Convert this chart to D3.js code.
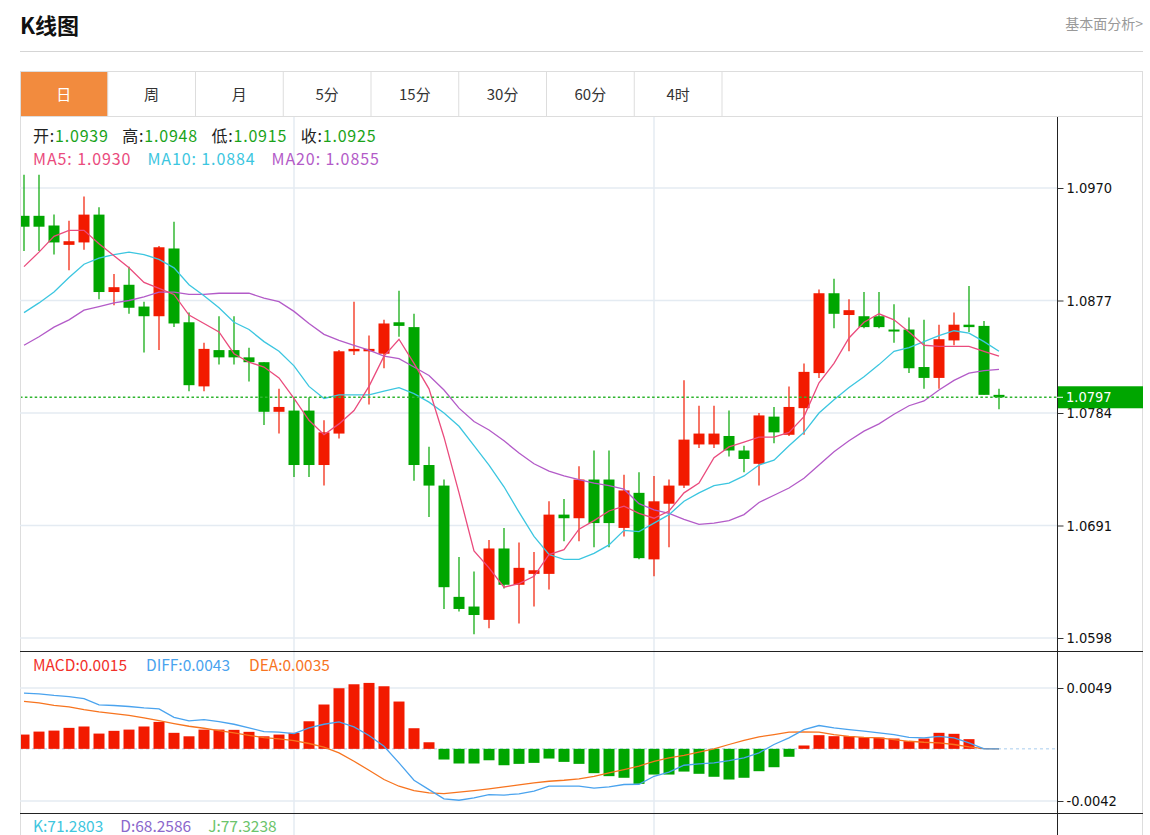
<!DOCTYPE html>
<html>
<head>
<meta charset="utf-8">
<script src="https://cdn.jsdelivr.net/npm/d3@7"></script>
<style>
  body { margin: 0; background: #fff; }
  text { font-family: "Noto Sans CJK SC", "Noto Sans", sans-serif; }
  .num { font-family: "DejaVu Sans Condensed", "DejaVu Sans", sans-serif; font-stretch: condensed; }
</style>
</head>
<body>
<div id="chart"></div>
<script>
// K line data (daily candles, oldest first)
const opens = [1.0947, 1.0947, 1.0939, 1.0923, 1.0925, 1.0948, 1.0884, 1.0890, 1.0872, 1.0864,
  1.0920, 1.0859, 1.0806, 1.0836, 1.0836, 1.0830, 1.0826, 1.0785, 1.0786, 1.0786,
  1.0741, 1.0767, 1.0835, 1.0835, 1.0833, 1.0859, 1.0855, 1.0741, 1.0724, 1.0632,
  1.0624, 1.0613, 1.0672, 1.0642, 1.0651, 1.0651, 1.0700, 1.0697, 1.0729, 1.0729,
  1.0689, 1.0718, 1.0663, 1.0709, 1.0724, 1.0758, 1.0758, 1.0765, 1.0753, 1.0742,
  1.0781, 1.0766, 1.0788, 1.0817, 1.0883, 1.0865, 1.0864, 1.0864, 1.0853, 1.0853,
  1.0822, 1.0813, 1.0844, 1.0857, 1.0856, 1.0799];
const highs = [1.0981, 1.0981, 1.0948, 1.0943, 1.0963, 1.0954, 1.0899, 1.0905, 1.0876, 1.0922,
  1.0942, 1.0867, 1.0842, 1.0864, 1.0864, 1.0838, 1.0826, 1.0804, 1.0797, 1.0797,
  1.0778, 1.0836, 1.0876, 1.0848, 1.0861, 1.0885, 1.0866, 1.0756, 1.0729, 1.0665,
  1.0653, 1.0679, 1.0689, 1.0677, 1.0669, 1.0711, 1.0713, 1.0740, 1.0753, 1.0753,
  1.0733, 1.0735, 1.0732, 1.0729, 1.0811, 1.0790, 1.0790, 1.0786, 1.0757, 1.0784,
  1.0789, 1.0806, 1.0825, 1.0886, 1.0895, 1.0878, 1.0884, 1.0884, 1.0874, 1.0863,
  1.0861, 1.0857, 1.0867, 1.0889, 1.0860, 1.0804];
const lows = [1.0918, 1.0918, 1.0915, 1.0902, 1.0919, 1.0878, 1.0873, 1.0866, 1.0834, 1.0836,
  1.0855, 1.0802, 1.0802, 1.0824, 1.0824, 1.0810, 1.0774, 1.0767, 1.0731, 1.0731,
  1.0724, 1.0763, 1.0832, 1.0791, 1.0821, 1.0847, 1.0728, 1.0698, 1.0622, 1.0620,
  1.0601, 1.0606, 1.0639, 1.0610, 1.0624, 1.0638, 1.0678, 1.0678, 1.0673, 1.0673,
  1.0682, 1.0663, 1.0649, 1.0673, 1.0722, 1.0755, 1.0755, 1.0748, 1.0735, 1.0724,
  1.0759, 1.0765, 1.0766, 1.0813, 1.0854, 1.0835, 1.0854, 1.0854, 1.0842, 1.0817,
  1.0804, 1.0804, 1.0840, 1.0851, 1.0799, 1.0787];
const closes = [1.0938, 1.0938, 1.0925, 1.0926, 1.0948, 1.0884, 1.0888, 1.0871, 1.0864, 1.0921,
  1.0858, 1.0807, 1.0837, 1.0830, 1.0830, 1.0826, 1.0785, 1.0789, 1.0741, 1.0741,
  1.0768, 1.0835, 1.0837, 1.0837, 1.0858, 1.0856, 1.0741, 1.0724, 1.0640, 1.0622,
  1.0617, 1.0672, 1.0642, 1.0656, 1.0654, 1.0700, 1.0697, 1.0729, 1.0693, 1.0693,
  1.0720, 1.0664, 1.0711, 1.0724, 1.0762, 1.0767, 1.0767, 1.0753, 1.0746, 1.0782,
  1.0768, 1.0789, 1.0818, 1.0883, 1.0866, 1.0869, 1.0855, 1.0855, 1.0852, 1.0821,
  1.0813, 1.0845, 1.0857, 1.0855, 1.0799, 1.0797];

// moving averages as drawn
const ma5 = [1.0905, 1.0917, 1.0930, 1.0935, 1.0935, 1.0924, 1.0914, 1.0904, 1.0892, 1.0887,
  1.0882, 1.0865, 1.0858, 1.0851, 1.0833, 1.0826, 1.0822, 1.0813, 1.0796, 1.0778,
  1.0766, 1.0775, 1.0786, 1.0806, 1.0831, 1.0845, 1.0825, 1.0804, 1.0764, 1.0718,
  1.0670, 1.0656, 1.0640, 1.0643, 1.0649, 1.0667, 1.0671, 1.0688, 1.0695, 1.0703,
  1.0707, 1.0701, 1.0697, 1.0703, 1.0718, 1.0726, 1.0747, 1.0756, 1.0760, 1.0764,
  1.0764, 1.0768, 1.0781, 1.0809, 1.0825, 1.0846, 1.0859, 1.0866, 1.0861, 1.0851,
  1.0840, 1.0839, 1.0839, 1.0839, 1.0835, 1.0831];
const ma10 = [1.0867, 1.0875, 1.0884, 1.0896, 1.0907, 1.0912, 1.0915, 1.0917, 1.0915, 1.0911,
  1.0904, 1.0890, 1.0881, 1.0871, 1.0859, 1.0853, 1.0843, 1.0835, 1.0823, 1.0806,
  1.0796, 1.0799, 1.0799, 1.0799, 1.0802, 1.0805, 1.0800, 1.0793, 1.0784, 1.0773,
  1.0757, 1.0741, 1.0723, 1.0702, 1.0682, 1.0667, 1.0663, 1.0663, 1.0668, 1.0675,
  1.0687, 1.0686, 1.0693, 1.0700, 1.0711, 1.0718, 1.0724, 1.0726, 1.0732, 1.0741,
  1.0745, 1.0757, 1.0768, 1.0784, 1.0795, 1.0805, 1.0814, 1.0824, 1.0835, 1.0838,
  1.0843, 1.0848, 1.0852, 1.0850, 1.0843, 1.0835];
const ma20 = [1.0840, 1.0847, 1.0855, 1.0861, 1.0869, 1.0872, 1.0875, 1.0877, 1.0880, 1.0884,
  1.0884, 1.0882, 1.0882, 1.0883, 1.0883, 1.0883, 1.0879, 1.0876, 1.0868, 1.0858,
  1.0849, 1.0844, 1.0840, 1.0836, 1.0831, 1.0829, 1.0822, 1.0815, 1.0803, 1.0788,
  1.0777, 1.0770, 1.0761, 1.0751, 1.0742, 1.0736, 1.0732, 1.0729, 1.0726, 1.0724,
  1.0721, 1.0709, 1.0704, 1.0701, 1.0696, 1.0692, 1.0693, 1.0695, 1.0700, 1.0710,
  1.0716, 1.0722, 1.0730, 1.0741, 1.0752, 1.0761, 1.0769, 1.0775, 1.0783, 1.0790,
  1.0794, 1.0803, 1.0811, 1.0817, 1.0819, 1.0820];

// MACD panel
const macdBars = [0.00115, 0.00139, 0.00147, 0.00169, 0.00180, 0.00123, 0.00145, 0.00155, 0.00180, 0.00217,
  0.00129, 0.00101, 0.00155, 0.00155, 0.00153, 0.00137, 0.00101, 0.00115, 0.00129, 0.00222,
  0.00357, 0.00488, 0.00520, 0.00531, 0.00504, 0.00381, 0.00166, 0.00053, -0.00086, -0.00118,
  -0.00118, -0.00092, -0.00132, -0.00121, -0.00113, -0.00078, -0.00105, -0.00121, -0.00196, -0.00220,
  -0.00233, -0.00282, -0.00207, -0.00207, -0.00183, -0.00201, -0.00225, -0.00247, -0.00233, -0.00180,
  -0.00148, -0.00064, 0.00027, 0.00110, 0.00102, 0.00102, 0.00094, 0.00091, 0.00083, 0.00062,
  0.00083, 0.00129, 0.00121, 0.00078, 0.00005, 0.00000];
const diffLine = [0.00448, 0.00443, 0.00430, 0.00421, 0.00405, 0.00354, 0.00349, 0.00341, 0.00330, 0.00322,
  0.00254, 0.00225, 0.00236, 0.00220, 0.00198, 0.00169, 0.00139, 0.00134, 0.00123, 0.00169,
  0.00198, 0.00217, 0.00177, 0.00107, 0.00021, -0.00113, -0.00253, -0.00328, -0.00403, -0.00414,
  -0.00394, -0.00368, -0.00372, -0.00362, -0.00341, -0.00301, -0.00301, -0.00301, -0.00317, -0.00306,
  -0.00287, -0.00285, -0.00221, -0.00188, -0.00132, -0.00121, -0.00113, -0.00094, -0.00072, -0.00032,
  0.00035, 0.00089, 0.00155, 0.00188, 0.00169, 0.00155, 0.00142, 0.00129, 0.00115, 0.00093,
  0.00089, 0.00101, 0.00089, 0.00048, 0.00000, 0.00000];
const deaLine = [0.00383, 0.00370, 0.00350, 0.00338, 0.00316, 0.00298, 0.00284, 0.00270, 0.00250, 0.00228,
  0.00204, 0.00182, 0.00166, 0.00147, 0.00129, 0.00109, 0.00091, 0.00081, 0.00067, 0.00043,
  0.00013, -0.00032, -0.00100, -0.00172, -0.00247, -0.00301, -0.00336, -0.00354, -0.00360, -0.00349,
  -0.00336, -0.00322, -0.00306, -0.00290, -0.00274, -0.00261, -0.00253, -0.00242, -0.00221, -0.00193,
  -0.00167, -0.00140, -0.00100, -0.00072, -0.00052, -0.00027, 0.00000, 0.00035, 0.00069, 0.00097,
  0.00115, 0.00134, 0.00137, 0.00134, 0.00115, 0.00101, 0.00093, 0.00089, 0.00075, 0.00061,
  0.00053, 0.00048, 0.00035, 0.00016, 0.00002, 0.00000];

const priceTicks = [1.0598, 1.0691, 1.0784, 1.0877, 1.0970];
const macdTicks = [-0.0042, 0.0049];
const lastPrice = 1.0797;
const gridCandles = [18, 42];   // candles that carry the vertical grid lines

const tabs = ['日', '周', '月', '5分', '15分', '30分', '60分', '4时'];
const ohlcLegend = [['开:', '1.0939'], ['高:', '1.0948'], ['低:', '1.0915'], ['收:', '1.0925']];
const maLegend = [['MA5: 1.0930', '#ea4b7d'], ['MA10: 1.0884', '#3cc6e0'], ['MA20: 1.0855', '#b35bc8']];
const macdLegend = [['MACD:0.0015', '#f2302a'], ['DIFF:0.0043', '#4aa3ee'], ['DEA:0.0035', '#f7741f']];
const kdjLegend = [['K:71.2803', '#3ec6de'], ['D:68.2586', '#8b68cc'], ['J:77.3238', '#6cc46c']];

const W = 1150, H = 835;
const left = 20, axisX = 1057, boxRight = 1143;
const tabTop = 71, tabBottom = 116, mainBottom = 651, macdBottom = 813;
const RED = '#f21a00', GREEN = '#00a600';

const svg = d3.select('#chart').append('svg')
  .attr('width', W)
  .attr('height', H);

// header
svg.append('text')
  .attr('x', 20).attr('y', 34)
  .style('font-size', '22px').style('font-weight', 'bold')
  .attr('fill', '#111')
  .text('K线图');
svg.append('text')
  .attr('x', boxRight).attr('y', 29)
  .attr('text-anchor', 'end')
  .style('font-size', '14px')
  .attr('fill', '#999')
  .text('基本面分析>');
svg.append('line')
  .attr('x1', left).attr('x2', boxRight).attr('y1', 51.5).attr('y2', 51.5)
  .attr('stroke', '#d5d5d5');

// outer box
svg.append('rect')
  .attr('x', left + 0.5).attr('y', tabTop + 0.5)
  .attr('width', boxRight - left - 1).attr('height', H)
  .attr('fill', 'none').attr('stroke', '#ddd');

// tabs
const tabW = 87.75;
const tabG = svg.append('g');
tabG.append('rect')
  .attr('x', left + 1).attr('y', tabTop + 1)
  .attr('width', tabW - 1).attr('height', tabBottom - tabTop - 1)
  .attr('fill', '#f28b3e');
tabs.forEach((t, i) => {
  tabG.append('text')
    .attr('x', left + tabW * i + tabW / 2).attr('y', 100)
    .attr('text-anchor', 'middle')
    .style('font-size', '15px')
    .attr('fill', i === 0 ? '#fff' : '#333')
    .text(t);
  tabG.append('line')
    .attr('x1', left + tabW * (i + 1)).attr('x2', left + tabW * (i + 1))
    .attr('y1', tabTop).attr('y2', tabBottom)
    .attr('stroke', '#ddd');
});
svg.append('line')
  .attr('x1', left).attr('x2', boxRight).attr('y1', tabBottom + 0.5).attr('y2', tabBottom + 0.5)
  .attr('stroke', '#ddd');

// scales
const x = d3.scaleLinear().domain([0, 65]).range([24, 999]);
const y = d3.scaleLinear().domain([1.0598, 1.0970]).range([638, 188]);
const yM = d3.scaleLinear().domain([-0.0042, 0.0049]).range([801, 688]);
const bodyW = 11;

// clips
const defs = svg.append('defs');
defs.append('clipPath').attr('id', 'clipMain').append('rect')
  .attr('x', left + 1).attr('y', tabBottom + 1).attr('width', axisX - left - 1).attr('height', mainBottom - tabBottom - 1);
defs.append('clipPath').attr('id', 'clipMacd').append('rect')
  .attr('x', left + 1).attr('y', mainBottom).attr('width', axisX - left - 1).attr('height', macdBottom - mainBottom);

// grid lines
const grid = svg.append('g').attr('stroke', '#e4ebf2').attr('stroke-width', 1.5);
priceTicks.forEach(t => {
  grid.append('line').attr('x1', left).attr('x2', axisX).attr('y1', y(t)).attr('y2', y(t));
});
macdTicks.forEach(t => {
  grid.append('line').attr('x1', left).attr('x2', axisX).attr('y1', yM(t)).attr('y2', yM(t));
});
gridCandles.forEach(i => {
  grid.append('line').attr('x1', x(i)).attr('x2', x(i)).attr('y1', tabBottom + 1).attr('y2', H);
});

// main panel
const main = svg.append('g').attr('clip-path', 'url(#clipMain)');
const candles = d3.range(opens.length).map(i => ({
  i, o: opens[i], h: highs[i], l: lows[i], c: closes[i]
}));
const cg = main.selectAll('g.candle').data(candles).enter().append('g')
  .attr('class', 'candle');
cg.append('line')
  .attr('x1', d => x(d.i)).attr('x2', d => x(d.i))
  .attr('y1', d => y(d.h)).attr('y2', d => y(d.l))
  .attr('stroke', d => d.c >= d.o ? RED : GREEN)
  .attr('stroke-width', 1.2);
cg.append('rect')
  .attr('x', d => x(d.i) - bodyW / 2)
  .attr('width', bodyW)
  .attr('y', d => y(Math.max(d.o, d.c)))
  .attr('height', d => Math.max(2, Math.abs(y(d.o) - y(d.c))))
  .attr('fill', d => d.c >= d.o ? RED : GREEN);

const priceLine = d3.line().x((d, i) => x(i)).y(d => y(d));
[[ma20, '#b35bc8'], [ma10, '#3cc6e0'], [ma5, '#ea4b7d']].forEach(([s, col]) => {
  main.append('path').datum(s)
    .attr('d', priceLine)
    .attr('fill', 'none').attr('stroke', col).attr('stroke-width', 1.3);
});

// last price line
main.append('line')
  .attr('x1', left).attr('x2', axisX)
  .attr('y1', y(lastPrice)).attr('y2', y(lastPrice))
  .attr('stroke', '#2fb52f').attr('stroke-width', 1.5)
  .attr('stroke-dasharray', '2.5,2.4');

// legends
function legendRow(items, yPos, gap, size, spacing) {
  let cx = 33;
  items.forEach(parts => {
    parts.forEach(([txt, col]) => {
      const t = svg.append('text')
        .attr('x', cx).attr('y', yPos)
        .style('font-size', size + 'px')
        .style('letter-spacing', spacing + 'px')
        .attr('fill', col)
        .text(txt);
      cx += t.node().getComputedTextLength();
    });
    cx += gap;
  });
}
legendRow(ohlcLegend.map(([k, v]) => [[k, '#222'], [v, '#1aa31a']]), 142, 13.5, 16, 0.8);
legendRow(maLegend.map(d => [d]), 165, 16, 16, 0.9);
legendRow(macdLegend.map(d => [d]), 671, 19, 15.5, 0);
legendRow(kdjLegend.map(d => [d]), 832, 17, 15.5, 0);

// MACD panel
const macdG = svg.append('g').attr('clip-path', 'url(#clipMacd)');
macdG.append('line')
  .attr('x1', left).attr('x2', axisX)
  .attr('y1', yM(0)).attr('y2', yM(0))
  .attr('stroke', '#a9cdee').attr('stroke-dasharray', '3,3');
macdG.selectAll('rect.bar').data(macdBars).enter().append('rect')
  .attr('class', 'bar')
  .attr('x', (d, i) => x(i) - bodyW / 2)
  .attr('width', bodyW)
  .attr('y', d => yM(Math.max(0, d)))
  .attr('height', d => Math.abs(yM(d) - yM(0)))
  .attr('fill', d => d >= 0 ? RED : GREEN);
const macdLine = d3.line().x((d, i) => x(i)).y(d => yM(d));
[[deaLine, '#f7741f'], [diffLine, '#4aa3ee']].forEach(([s, col]) => {
  macdG.append('path').datum(s)
    .attr('d', macdLine)
    .attr('fill', 'none').attr('stroke', col).attr('stroke-width', 1.3);
});

// panel separators and axis line
[mainBottom, macdBottom].forEach(yy => {
  svg.append('line')
    .attr('x1', left).attr('x2', boxRight).attr('y1', yy + 0.5).attr('y2', yy + 0.5)
    .attr('stroke', '#222');
});
svg.append('line')
  .attr('x1', axisX + 0.5).attr('x2', axisX + 0.5).attr('y1', tabBottom + 1).attr('y2', H)
  .attr('stroke', '#222');

// axes
const fmt = d => d.toFixed(4);
const yAxis = svg.append('g')
  .attr('transform', `translate(${axisX + 0.5},0)`)
  .call(d3.axisRight(y).tickValues(priceTicks).tickSize(6).tickPadding(3).tickFormat(fmt));
const mAxis = svg.append('g')
  .attr('transform', `translate(${axisX + 0.5},0)`)
  .call(d3.axisRight(yM).tickValues(macdTicks).tickSize(6).tickPadding(3).tickFormat(fmt));
[yAxis, mAxis].forEach(a => {
  a.select('.domain').remove();
  a.selectAll('.tick line').attr('stroke', '#333');
  a.selectAll('.tick text')
    .attr('class', 'num')
    .style('font-size', '14.5px')
    .attr('fill', '#111');
});

// last price tag
svg.append('rect')
  .attr('x', axisX + 1).attr('y', y(lastPrice) - 11)
  .attr('width', boxRight - axisX - 1).attr('height', 22)
  .attr('fill', '#00a600');
svg.append('line')
  .attr('x1', axisX).attr('x2', axisX + 6).attr('y1', y(lastPrice)).attr('y2', y(lastPrice))
  .attr('stroke', '#fff');
svg.append('text')
  .attr('class', 'num')
  .attr('x', axisX + 9).attr('y', y(lastPrice))
  .attr('dy', '0.36em')
  .style('font-size', '14.5px')
  .attr('fill', '#fff')
  .text(fmt(lastPrice));
</script>
</body>
</html>
